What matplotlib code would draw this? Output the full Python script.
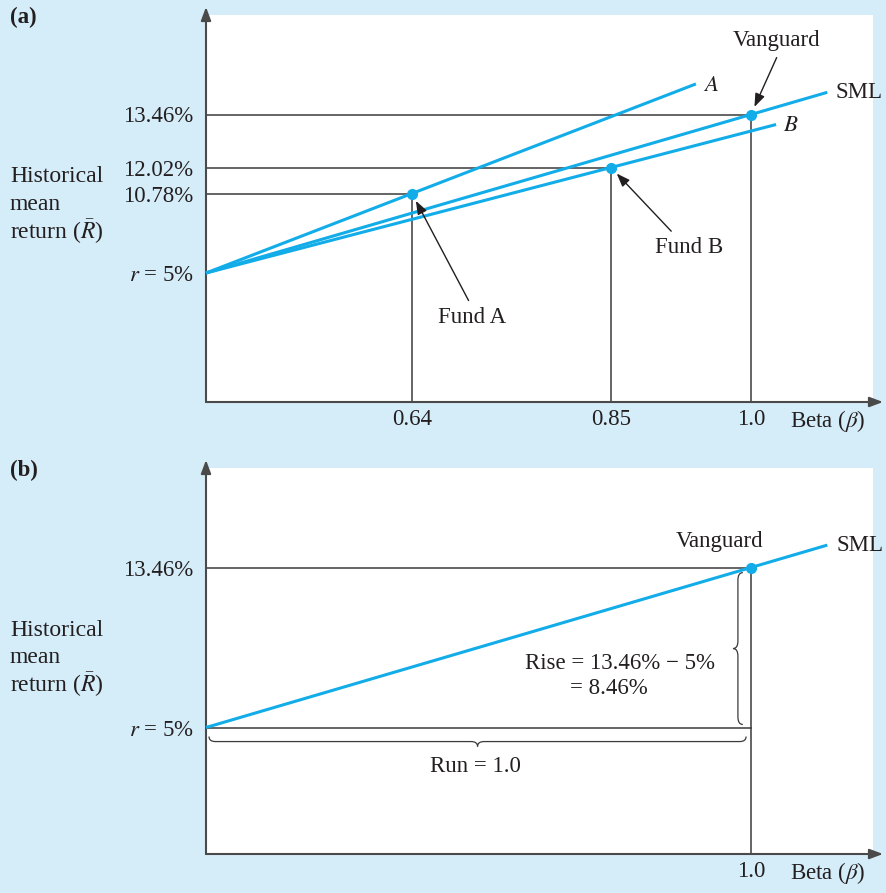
import numpy as np
import matplotlib.pyplot as plt
from matplotlib.path import Path
from matplotlib.patches import PathPatch

plt.rcParams["font.family"] = ["Liberation Serif", "DejaVu Serif"]
plt.rcParams["mathtext.fontset"] = "stix"

# values
risk_free = 5.0
fund_names = ["Fund A", "Fund B", "Vanguard"]
fund_betas = [0.64, 0.85, 1.0]
fund_returns = [10.78, 12.02, 13.46]
line_names = ["A", "B", "SML"]
line_end_betas = [0.941, 1.046, 1.14]

beta_labels = ["0.64", "0.85", "1.0"]
return_ticks_a = [5.0, 10.78, 12.02, 13.46]
return_labels_a = ["$r$ = 5%", "10.78%", "12.02%", "13.46%"]
return_ticks_b = [5.0, 13.46]
return_labels_b = ["$r$ = 5%", "13.46%"]
ylabel_lines = ["Historical", "mean", "return ($\\bar{R}$)"]

# layout (figure pixels)
W, H = 887, 893
BLUE = "#d5ecf9"
CYAN = "#12ade9"
INK = "#231f20"
GUIDE = "#3a3a3a"
AXIS = "#4a4a4a"
FS = 16.5

fig = plt.figure(figsize=(W / 100, H / 100), dpi=100, facecolor=BLUE)


def piecewise(knots, px, slope):
    # schematic axis: labelled values sit at fixed spots, linear beyond the ends
    knots = np.asarray(knots, float)
    px = np.asarray(px, float)

    def fwd(v):
        v = np.asarray(v, float)
        out = np.interp(v, knots, px)
        out = np.where(v < knots[0], px[0] + (v - knots[0]) * slope, out)
        return np.where(v > knots[-1], px[-1] + (v - knots[-1]) * slope, out)

    def inv(p):
        p = np.asarray(p, float)
        out = np.interp(p, px, knots)
        out = np.where(p < px[0], knots[0] + (p - px[0]) / slope, out)
        return np.where(p > px[-1], knots[-1] + (p - px[-1]) / slope, out)

    return fwd, inv


def make_panel(box, xk, xpx, yk, ypx, letter, label_top):
    l, t, r, b = box
    ax = fig.add_axes([l / W, 1 - b / H, (r - l) / W, (b - t) / H])
    fx, fx_inv = piecewise(xk, xpx, 545.0)
    fy, fy_inv = piecewise(yk, [H - p for p in ypx], 18.75)
    ax.set_xscale("function", functions=(fx, fx_inv))
    ax.set_yscale("function", functions=(fy, fy_inv))
    ax.set_xlim(float(fx_inv(l)), float(fx_inv(r)))
    ax.set_ylim(float(fy_inv(H - b)), float(fy_inv(H - t)))
    ax.minorticks_off()
    ax.set_facecolor("white")
    for s in ax.spines.values():
        s.set_visible(False)
    arrow = dict(arrowstyle="-|>,head_length=0.8,head_width=0.3", color=AXIS,
                 lw=1.5, shrinkA=0, shrinkB=0, mutation_scale=10)
    ax.annotate("", xy=(0, 1 + 8 / (b - t)), xytext=(0, 0), xycoords="axes fraction",
                arrowprops=arrow, annotation_clip=False)
    ax.annotate("", xy=(1 + 10 / (r - l), 0), xytext=(0, 0), xycoords="axes fraction",
                arrowprops=arrow, annotation_clip=False)
    ax.tick_params(length=0, labelsize=FS, colors=INK)
    ax.tick_params(axis="x", pad=5)
    ax.tick_params(axis="y", pad=9)
    ax.text((790 - l) / (r - l), -19 / (b - t), r"Beta ($\beta$)", transform=ax.transAxes,
            ha="left", va="center", fontsize=FS, color=INK)
    for i, line in enumerate(ylabel_lines):
        fig.text(10 / W, 1 - (label_top + 27.5 * i) / H, line, ha="left", va="center",
                 fontsize=FS + 0.5, color=INK)
    fig.text(10 / W, 1 - (t + 2) / H, letter, ha="left", va="center",
             fontsize=FS, fontweight="bold", color=INK)
    return ax, fx, fy, fy_inv


def straight_end(fx, fy, fy_inv, beta, ret, beta_end):
    # extend line from (0, r) through (beta, ret) so it stays straight on screen
    t = (fx(beta_end) - fx(0)) / (fx(beta) - fx(0))
    return float(fy_inv(fy(risk_free) + t * (fy(ret) - fy(risk_free))))


def guides(ax, beta, ret):
    y0 = ax.get_ylim()[0]
    ax.plot([0, beta], [ret, ret], color=GUIDE, lw=1.1, zorder=2)
    ax.plot([beta, beta], [y0, ret], color=GUIDE, lw=1.1, zorder=2)


# ---------- panel (a)
ax_a, fx, fy, fy_inv = make_panel((206, 15, 873, 402), [0] + fund_betas, [206, 412, 611, 751],
                                  return_ticks_a, [273, 193.5, 167.5, 114.5], "(a)", 177)
ax_a.set_xticks(fund_betas, beta_labels)
ax_a.set_yticks(return_ticks_a, return_labels_a)

for beta, ret in zip(fund_betas, fund_returns):
    guides(ax_a, beta, ret)

label_offsets = [(7, -2), (7, -1), (8, 0)]
for name, beta, ret, bend, off in zip(line_names, fund_betas, fund_returns,
                                      line_end_betas, label_offsets):
    rend = straight_end(fx, fy, fy_inv, beta, ret, bend)
    ax_a.plot([0, beta, bend], [risk_free, ret, rend], color=CYAN, lw=2.2,
              solid_capstyle="butt", zorder=3, clip_on=False)
    txt = name if name == "SML" else f"${name}$"
    ax_a.annotate(txt, xy=(bend, rend), xytext=off, textcoords="offset pixels",
                  ha="left", va="center", fontsize=FS, color=INK, annotation_clip=False)

ax_a.plot(fund_betas, fund_returns, "o", ms=7, color=CYAN, zorder=5)

pointer = dict(arrowstyle="-|>,head_length=0.8,head_width=0.3", color=INK, lw=1.0,
               shrinkA=3, shrinkB=6, mutation_scale=10)
name_offsets = [(60, -124), (78, -80), (26, 74)]
rel_pos = [(0.5, 1.0), (0.32, 1.0), (0.53, 0.0)]
for name, beta, ret, off, rp in zip(fund_names, fund_betas, fund_returns, name_offsets, rel_pos):
    ax_a.annotate(name, xy=(beta, ret), xytext=off, textcoords="offset pixels",
                  ha="center", va="center", fontsize=FS, color=INK,
                  arrowprops=dict(pointer, relpos=rp), annotation_clip=False)

# ---------- panel (b)
ax_b, fx, fy, fy_inv = make_panel((206, 468, 873, 854), [0, 1.0], [206, 751],
                                  return_ticks_b, [727.5, 567.5], "(b)", 630)
ax_b.set_xticks([fund_betas[2]], [beta_labels[2]])
ax_b.set_yticks(return_ticks_b, return_labels_b)

van_beta, van_ret = fund_betas[2], fund_returns[2]
guides(ax_b, van_beta, van_ret)
ax_b.plot([0, van_beta], [risk_free, risk_free], color=GUIDE, lw=1.1, zorder=2)
rend = straight_end(fx, fy, fy_inv, van_beta, van_ret, line_end_betas[2])
ax_b.plot([0, van_beta, line_end_betas[2]], [risk_free, van_ret, rend], color=CYAN, lw=2.2,
          solid_capstyle="butt", zorder=3, clip_on=False)
ax_b.plot([van_beta], [van_ret], "o", ms=7, color=CYAN, zorder=5)
ax_b.annotate("SML", xy=(line_end_betas[2], rend), xytext=(9, 0), textcoords="offset pixels",
              ha="left", va="center", fontsize=FS, color=INK, annotation_clip=False)
ax_b.annotate("Vanguard", xy=(van_beta, van_ret), xytext=(-31, 26), textcoords="offset pixels",
              ha="center", va="center", fontsize=FS, color=INK)


def brace(ax, p0, p1, off_main, off_tip, curl):
    p0, p1 = np.array(p0, float), np.array(p1, float)
    d = p1 - p0
    m = (p0 + p1) / 2
    om, ot = np.array(off_main, float), np.array(off_tip, float)
    verts = [p0, p0 + om, p0 + om + d * curl, m + om - d * curl, m + om, m + ot,
             m + om, m + om + d * curl, p1 + om - d * curl, p1 + om, p1]
    codes = [Path.MOVETO, Path.CURVE3, Path.CURVE3, Path.LINETO, Path.CURVE3, Path.CURVE3,
             Path.CURVE3, Path.CURVE3, Path.LINETO, Path.CURVE3, Path.CURVE3]
    ax.add_patch(PathPatch(Path(verts, codes), fill=False, ec=GUIDE, lw=0.9, zorder=2))


# run brace under the r line, rise brace left of the Vanguard drop line
rise = van_ret - risk_free
run = van_beta
brace(ax_b, (0.0055, risk_free - 0.48), (run - 0.009, risk_free - 0.48),
      (0, -0.27), (0, -0.53), 0.012)
brace(ax_b, (run - 0.015, van_ret - 0.27), (run - 0.015, risk_free + 0.16),
      (-0.009, 0), (-0.018, 0), 0.05)

ax_b.text(0.76, 8.41, f"Rise = {van_ret:.2f}% \u2212 {risk_free:.0f}%", ha="center",
          va="center", fontsize=FS, color=INK)
ax_b.text(0.74, 7.08, f"= {rise:.2f}%", ha="center", va="center", fontsize=FS, color=INK)
ax_b.text(0.495, 2.92, f"Run = {run:.1f}", ha="center", va="center", fontsize=FS, color=INK)

fig.savefig("out.png", dpi=100, facecolor=BLUE)
